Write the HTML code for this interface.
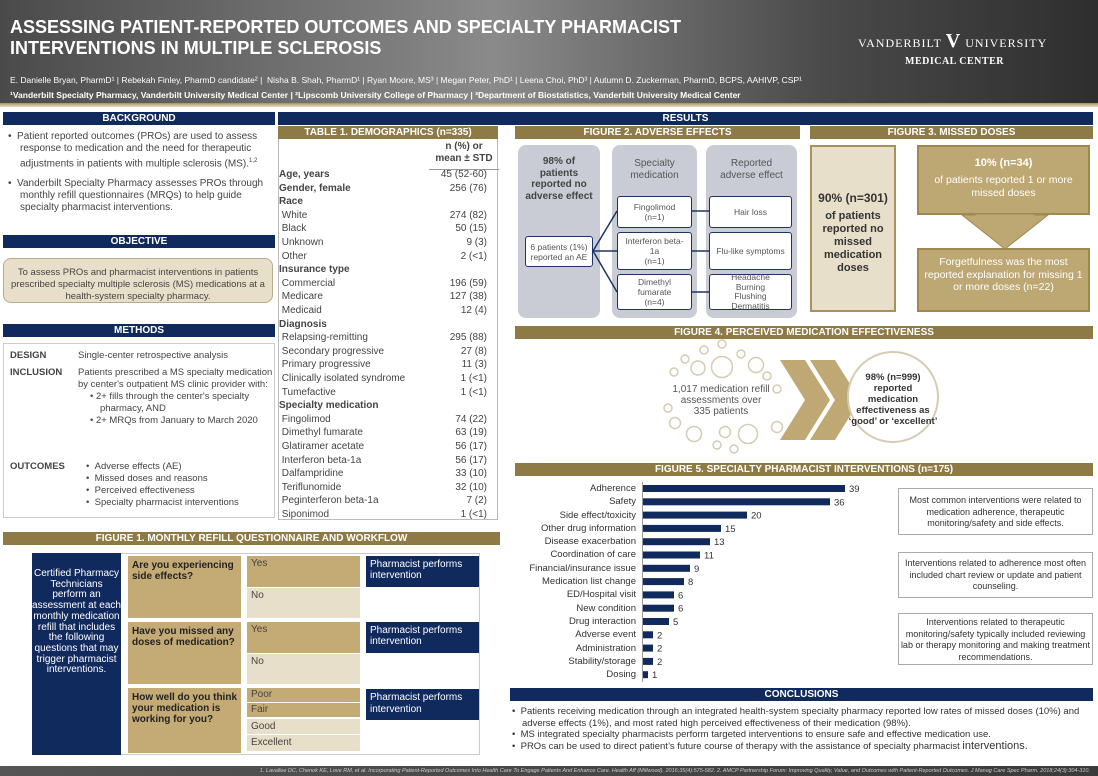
<!DOCTYPE html>
<html><head><meta charset="utf-8"><style>
*{margin:0;padding:0;box-sizing:border-box}
body{width:1098px;height:776px;position:relative;background:#fff;font-family:"Liberation Sans",sans-serif;color:#444;overflow:hidden}
.a{position:absolute}
.nv{background:#112a5e;color:#fff;font-weight:bold;font-size:10px;text-align:center;line-height:13px}
.gd{background:#8e7a45;color:#fff;font-weight:bold;font-size:10px;text-align:center;line-height:13px}
.t{font-size:10px;line-height:12px}
.gc{background:#c9ccd4;border-radius:8px}
.wb{background:#fff;border:1.5px solid #1d3566;border-radius:3px;font-size:8.5px;text-align:center;color:#555;display:flex;align-items:center;justify-content:center;line-height:10px}
.row{position:absolute;left:0;width:220px;font-size:10px;line-height:13px}
.row span{position:absolute;right:12px}
</style></head><body>
<div class="a" style="left:0;top:0;width:1098px;height:103px;background:linear-gradient(90deg,#4a4a4a 0%,#8a8a8a 45%,#4a4a4a 75%,#2e2e2e 100%)"></div>
<div class="a" style="left:0;top:103px;width:1098px;height:4px;background:linear-gradient(#a8925c,#e6dcc4)"></div>
<div class="a" style="left:10px;top:17px;color:#fff;font-weight:bold;font-size:18px;line-height:21px">ASSESSING PATIENT-REPORTED OUTCOMES AND SPECIALTY PHARMACIST<br>INTERVENTIONS IN MULTIPLE SCLEROSIS</div>
<div class="a" style="left:10px;top:73px;color:#fff;font-size:8.5px;line-height:15px">E. Danielle Bryan, PharmD¹ | Rebekah Finley, PharmD candidate² | &nbsp;Nisha B. Shah, PharmD¹ | Ryan Moore, MS³ | Megan Peter, PhD¹ | Leena Choi, PhD³ | Autumn D. Zuckerman, PharmD, BCPS, AAHIVP, CSP¹<br><b>¹Vanderbilt Specialty Pharmacy, Vanderbilt University Medical Center | ²Lipscomb University College of Pharmacy | ³Department of Biostatistics, Vanderbilt University Medical Center</b></div>
<div class="a" style="left:858px;top:30px;color:#fff;font-family:'Liberation Serif',serif;font-size:12px;letter-spacing:1px">VANDERBILT <span style="font-size:20px;font-weight:bold">V</span> UNIVERSITY</div>
<div class="a" style="left:905px;top:56px;color:#fff;font-family:'Liberation Serif',serif;font-size:10px;font-weight:bold;letter-spacing:.5px">MEDICAL CENTER</div>

<div class="a nv" style="left:3px;top:112px;width:272px">BACKGROUND</div>
<div class="a t" style="left:8px;top:131px;width:268px">
<div style="padding-left:12px;text-indent:-12px">•&nbsp; Patient reported outcomes (PROs) are used to assess response to medication and the need for therapeutic adjustments in patients with multiple sclerosis (MS).<sup style="font-size:6px">1,2</sup></div>
<div style="padding-left:12px;text-indent:-12px;margin-top:8px">•&nbsp; Vanderbilt Specialty Pharmacy assesses PROs through monthly refill questionnaires (MRQs) to help guide specialty pharmacist interventions.</div></div>
<div class="a nv" style="left:3px;top:235px;width:272px">OBJECTIVE</div>
<div class="a t" style="left:3px;top:258px;width:270px;height:45px;background:#e7dfc9;border:1px solid #b8ab88;border-radius:8px;text-align:center;padding-top:8px;font-size:9.5px">To assess PROs and pharmacist interventions in patients prescribed specialty multiple sclerosis (MS) medications at a health-system specialty pharmacy.</div>
<div class="a nv" style="left:3px;top:324px;width:272px">METHODS</div>
<div class="a" style="left:3px;top:343px;width:272px;height:175px;border:1px solid #ccc;font-size:9.5px;line-height:12px">
<div class="a" style="left:6px;top:6px;font-weight:bold">DESIGN</div><div class="a" style="left:74px;top:6px">Single-center retrospective analysis</div>
<div class="a" style="left:6px;top:23px;font-weight:bold">INCLUSION</div><div class="a" style="left:74px;top:23px;width:195px">Patients prescribed a MS specialty medication by center's outpatient MS clinic provider with:
<div style="padding-left:22px;text-indent:-10px">• 2+ fills through the center's specialty pharmacy, AND</div><div style="padding-left:22px;text-indent:-10px">• 2+ MRQs from January to March 2020</div></div>
<div class="a" style="left:6px;top:117px;font-weight:bold">OUTCOMES</div><div class="a" style="left:82px;top:117px;line-height:12px">• &nbsp;Adverse effects (AE)<br>• &nbsp;Missed doses and reasons<br>• &nbsp;Perceived effectiveness<br>• &nbsp;Specialty pharmacist interventions</div>
</div>

<div class="a nv" style="left:278px;top:112px;width:815px">RESULTS</div>
<div class="a gd" style="left:278px;top:126px;width:220px">TABLE 1. DEMOGRAPHICS (n=335)</div>
<div class="a" style="left:278px;top:139px;width:220px;height:381px;border:1px solid #bbb;border-top:none">
<div class="a" style="left:150px;top:2px;width:70px;text-align:center;font-weight:bold;font-size:10px;line-height:12px;color:#444">n (%) or<br>mean ± STD</div>
<div class="a" style="left:150px;top:30px;width:70px;border-top:1px solid #999"></div>
<div class="a" style="left:0;top:29px;width:220px">
<div class="row" style="top:0"><b>Age, years</b><span>45 (52-60)</span></div>
<div class="row" style="top:13.6px"><b>Gender, female</b><span>256 (76)</span></div>
<div class="row" style="top:27.2px"><b>Race</b></div>
<div class="row" style="top:40.8px">&nbsp;White<span>274 (82)</span></div>
<div class="row" style="top:54.4px">&nbsp;Black<span>50 (15)</span></div>
<div class="row" style="top:68px">&nbsp;Unknown<span>9 (3)</span></div>
<div class="row" style="top:81.6px">&nbsp;Other<span>2 (&lt;1)</span></div>
<div class="row" style="top:95.2px"><b>Insurance type</b></div>
<div class="row" style="top:108.8px">&nbsp;Commercial<span>196 (59)</span></div>
<div class="row" style="top:122.4px">&nbsp;Medicare<span>127 (38)</span></div>
<div class="row" style="top:136px">&nbsp;Medicaid<span>12 (4)</span></div>
<div class="row" style="top:149.6px"><b>Diagnosis</b></div>
<div class="row" style="top:163.2px">&nbsp;Relapsing-remitting<span>295 (88)</span></div>
<div class="row" style="top:176.8px">&nbsp;Secondary progressive<span>27 (8)</span></div>
<div class="row" style="top:190.4px">&nbsp;Primary progressive<span>11 (3)</span></div>
<div class="row" style="top:204px">&nbsp;Clinically isolated syndrome<span>1 (&lt;1)</span></div>
<div class="row" style="top:217.6px">&nbsp;Tumefactive<span>1 (&lt;1)</span></div>
<div class="row" style="top:231.2px"><b>Specialty medication</b></div>
<div class="row" style="top:244.8px">&nbsp;Fingolimod<span>74 (22)</span></div>
<div class="row" style="top:258.4px">&nbsp;Dimethyl fumarate<span>63 (19)</span></div>
<div class="row" style="top:272px">&nbsp;Glatiramer acetate<span>56 (17)</span></div>
<div class="row" style="top:285.6px">&nbsp;Interferon beta-1a<span>56 (17)</span></div>
<div class="row" style="top:299.2px">&nbsp;Dalfampridine<span>33 (10)</span></div>
<div class="row" style="top:312.8px">&nbsp;Teriflunomide<span>32 (10)</span></div>
<div class="row" style="top:326.4px">&nbsp;Peginterferon beta-1a<span>7 (2)</span></div>
<div class="row" style="top:340px">&nbsp;Siponimod<span>1 (&lt;1)</span></div>
</div></div>

<div class="a gd" style="left:515px;top:126px;width:285px">FIGURE 2. ADVERSE EFFECTS</div>
<div class="a gc" style="left:518px;top:145px;width:82px;height:173px"></div>
<div class="a gc" style="left:612px;top:145px;width:85px;height:173px"></div>
<div class="a gc" style="left:706px;top:145px;width:91px;height:173px"></div>
<div class="a" style="left:518px;top:156px;width:82px;text-align:center;font-weight:bold;font-size:10px;line-height:11.5px;color:#444">98% of<br>patients<br>reported no<br>adverse effect</div>
<div class="a" style="left:612px;top:158px;width:85px;text-align:center;font-size:10px;line-height:11.5px;color:#555">Specialty<br>medication</div>
<div class="a" style="left:706px;top:158px;width:91px;text-align:center;font-size:10px;line-height:11.5px;color:#555">Reported<br>adverse effect</div>
<svg class="a" style="left:510px;top:140px" width="300" height="185"><g stroke="#1d3566" stroke-width="1.5"><line x1="83" y1="111" x2="107" y2="71"/><line x1="83" y1="111" x2="107" y2="111"/><line x1="83" y1="111" x2="107" y2="152"/><line x1="182" y1="71" x2="200" y2="71"/><line x1="182" y1="111" x2="200" y2="111"/><line x1="182" y1="152" x2="200" y2="152"/></g></svg>
<div class="a wb" style="left:525px;top:236px;width:68px;height:31px">6 patients (1%)<br>reported an AE</div>
<div class="a wb" style="left:617px;top:196px;width:75px;height:32px">Fingolimod<br>(n=1)</div>
<div class="a wb" style="left:617px;top:232px;width:75px;height:38px">Interferon beta-<br>1a<br>(n=1)</div>
<div class="a wb" style="left:617px;top:274px;width:75px;height:36px">Dimethyl<br>fumarate<br>(n=4)</div>
<div class="a wb" style="left:709px;top:196px;width:83px;height:32px">Hair loss</div>
<div class="a wb" style="left:709px;top:232px;width:83px;height:38px">Flu-like symptoms</div>
<div class="a wb" style="left:709px;top:274px;width:83px;height:36px;line-height:9.5px">Headache<br>Burning<br>Flushing<br>Dermatitis</div>

<div class="a gd" style="left:810px;top:126px;width:283px">FIGURE 3. MISSED DOSES</div>
<div class="a" style="left:810px;top:145px;width:86px;height:167px;background:#e7dfc9;border:2px solid #a8925c;text-align:center;color:#333;font-weight:bold;padding-top:45px;font-size:11px;line-height:13px"><span style="font-size:12px">90% (n=301)</span><br><span style="display:block;margin-top:4px">of patients reported no missed medication doses</span></div>
<div class="a" style="left:917px;top:145px;width:173px;height:70px;background:#bda772;border:2px solid #a0894f;text-align:center;color:#fff;font-size:10.5px;line-height:13px;padding-top:10px"><b style="font-size:11px">10% (n=34)</b><br><span style="display:block;margin-top:4px">of patients reported 1 or more missed doses</span></div>
<svg class="a" style="left:960px;top:214px" width="90" height="36"><polygon points="15,0 75,0 75,1 88,1 45,35 2,1 15,1" fill="#bda772" stroke="#a0894f"/></svg>
<div class="a" style="left:917px;top:248px;width:173px;height:64px;background:#bda772;border:2px solid #a0894f;text-align:center;color:#fff;font-size:10.5px;line-height:12.5px;padding-top:6px">Forgetfulness was the most reported explanation for missing 1 or more doses (n=22)</div>

<div class="a gd" style="left:515px;top:326px;width:578px">FIGURE 4. PERCEIVED MEDICATION EFFECTIVENESS</div>
<svg class="a" style="left:0;top:0" width="1098" height="470"><g fill="none" stroke="#d6ccb3" stroke-width="1.5">
<circle cx="722" cy="344" r="4"/><circle cx="704" cy="350" r="4"/><circle cx="741" cy="354" r="4"/><circle cx="685" cy="359" r="4"/><circle cx="698" cy="368" r="7"/><circle cx="722" cy="367" r="10.5"/><circle cx="756" cy="365" r="7.5"/><circle cx="674" cy="372" r="4"/><circle cx="767" cy="376" r="4"/><circle cx="777" cy="389" r="4"/><circle cx="668" cy="408" r="4"/><circle cx="675" cy="423" r="5.5"/><circle cx="694" cy="434" r="7.5"/><circle cx="725" cy="432" r="5.5"/><circle cx="748" cy="434" r="9.5"/><circle cx="777" cy="427" r="5.5"/><circle cx="717" cy="445" r="4"/><circle cx="734" cy="449" r="4"/></g>
<polygon points="780,360 805,360 830,400 805,440 780,440 805,400" fill="#bfa873"/>
<polygon points="810,360 835,360 860,400 835,440 810,440 835,400" fill="#bfa873"/>
<circle cx="893" cy="397" r="45" fill="#fff" stroke="#d6ccb3" stroke-width="2"/></svg>
<div class="a" style="left:671px;top:384px;width:100px;text-align:center;font-size:10px;line-height:11px;color:#555">1,017 medication refill assessments over 335 patients</div>
<div class="a" style="left:848px;top:372px;width:90px;text-align:center;font-size:9.5px;font-weight:bold;line-height:11px;color:#333">98% (n=999) reported medication effectiveness as ‘good’ or ‘excellent’</div>

<div class="a gd" style="left:515px;top:463px;width:578px">FIGURE 5. SPECIALTY PHARMACIST INTERVENTIONS (n=175)</div>
<div class="a" style="left:480px;top:482px;width:620px;height:200px;font-size:9.5px;line-height:13.3px;color:#333">
<div class="a" style="left:0;top:0;width:156px;text-align:right">Adherence<br>Safety<br>Side effect/toxicity<br>Other drug information<br>Disease exacerbation<br>Coordination of care<br>Financial/insurance issue<br>Medication list change<br>ED/Hospital visit<br>New condition<br>Drug interaction<br>Adverse event<br>Administration<br>Stability/storage<br>Dosing</div>
<div class="a" style="left:162px;top:0;width:1px;height:200px;background:#999"></div>
</div>
<svg class="a" style="left:643px;top:482px" width="240" height="200" font-family="Liberation Sans" font-size="9.5" fill="#333">
<g fill="#112a5e">
<rect x="0" y="3" width="202" height="7"/><rect x="0" y="16.3" width="187" height="7"/><rect x="0" y="29.6" width="104" height="7"/><rect x="0" y="42.9" width="78" height="7"/><rect x="0" y="56.2" width="67" height="7"/><rect x="0" y="69.5" width="57" height="7"/><rect x="0" y="82.8" width="47" height="7"/><rect x="0" y="96.1" width="41" height="7"/><rect x="0" y="109.4" width="31" height="7"/><rect x="0" y="122.7" width="31" height="7"/><rect x="0" y="136" width="26" height="7"/><rect x="0" y="149.3" width="10" height="7"/><rect x="0" y="162.6" width="10" height="7"/><rect x="0" y="175.9" width="10" height="7"/><rect x="0" y="189.2" width="5" height="7"/></g>
<text x="206" y="10">39</text><text x="191" y="23.3">36</text><text x="108" y="36.6">20</text><text x="82" y="49.9">15</text><text x="71" y="63.2">13</text><text x="61" y="76.5">11</text><text x="51" y="89.8">9</text><text x="45" y="103.1">8</text><text x="35" y="116.4">6</text><text x="35" y="129.7">6</text><text x="30" y="143">5</text><text x="14" y="156.3">2</text><text x="14" y="169.6">2</text><text x="14" y="182.9">2</text><text x="9" y="196.2">1</text></svg>
<div class="a" style="left:898px;top:488px;width:195px;height:47px;border:1px solid #aaa;font-size:9px;line-height:11.5px;text-align:center;padding-top:6px;color:#333">Most common interventions were related to medication adherence, therapeutic monitoring/safety and side effects.</div>
<div class="a" style="left:898px;top:552px;width:195px;height:46px;border:1px solid #aaa;font-size:9px;line-height:11.5px;text-align:center;padding-top:5px;color:#333">Interventions related to adherence most often included chart review or update and patient counseling.</div>
<div class="a" style="left:898px;top:613px;width:195px;height:52px;border:1px solid #aaa;font-size:9px;line-height:11.5px;text-align:center;padding-top:3px;color:#333">Interventions related to therapeutic monitoring/safety typically included reviewing lab or therapy monitoring and making treatment recommendations.</div>

<div class="a nv" style="left:510px;top:688px;width:583px">CONCLUSIONS</div>
<div class="a" style="left:500px;top:706px;width:593px;font-size:9.5px;line-height:11.5px;color:#333">
<div style="padding-left:22px;text-indent:-10px">• &nbsp;Patients receiving medication through an integrated health-system specialty pharmacy reported low rates of missed doses (10%) and adverse effects (1%), and most rated high perceived effectiveness of their medication (98%).</div>
<div style="padding-left:22px;text-indent:-10px">• &nbsp;MS integrated specialty pharmacists perform targeted interventions to ensure safe and effective medication use.</div>
<div style="padding-left:22px;text-indent:-10px">• &nbsp;PROs can be used to direct patient’s future course of therapy with the assistance of specialty pharmacist <span style="font-size:11px">interventions.</span></div></div>

<div class="a gd" style="left:3px;top:532px;width:497px">FIGURE 1. MONTHLY REFILL QUESTIONNAIRE AND WORKFLOW</div>
<div class="a" style="left:32px;top:553px;width:448px;height:202px;border:1px solid #ccc"></div>
<div class="a" style="left:32px;top:553px;width:89px;height:202px;background:#112a5e;color:#fff;text-align:center;font-size:10px;line-height:10.7px;padding-top:16px">Certified Pharmacy Technicians perform an assessment at each monthly medication refill that includes the following questions that may trigger pharmacist interventions.</div>
<div class="a" style="left:128px;top:556px;width:113px;height:62px;background:#c4ab76;font-weight:bold;font-size:10px;line-height:11px;padding:4px;color:#222">Are you experiencing side effects?</div>
<div class="a" style="left:128px;top:622px;width:113px;height:62px;background:#c4ab76;font-weight:bold;font-size:10px;line-height:11px;padding:4px;color:#222">Have you missed any doses of medication?</div>
<div class="a" style="left:128px;top:688px;width:113px;height:65px;background:#c4ab76;font-weight:bold;font-size:10px;line-height:11px;padding:4px;color:#222">How well do you think your medication is working for you?</div>
<div class="a" style="left:247px;top:556px;width:113px;height:31px;background:#c4ab76;font-size:10px;padding:2px 4px;color:#444">Yes</div>
<div class="a" style="left:247px;top:588px;width:113px;height:30px;background:#e7dfc9;font-size:10px;padding:2px 4px;color:#444">No</div>
<div class="a" style="left:247px;top:622px;width:113px;height:31px;background:#c4ab76;font-size:10px;padding:2px 4px;color:#444">Yes</div>
<div class="a" style="left:247px;top:654px;width:113px;height:30px;background:#e7dfc9;font-size:10px;padding:2px 4px;color:#444">No</div>
<div class="a" style="left:247px;top:688px;width:113px;height:14px;background:#c4ab76;font-size:10px;padding:0 4px;line-height:14px;color:#444">Poor</div>
<div class="a" style="left:247px;top:703px;width:113px;height:14px;background:#c4ab76;font-size:10px;padding:0 4px;line-height:14px;color:#444">Fair</div>
<div class="a" style="left:247px;top:719px;width:113px;height:15px;background:#e7dfc9;font-size:10px;padding:0 4px;line-height:15px;color:#444">Good</div>
<div class="a" style="left:247px;top:735px;width:113px;height:16px;background:#e7dfc9;font-size:10px;padding:0 4px;line-height:16px;color:#444">Excellent</div>
<div class="a" style="left:366px;top:556px;width:113px;height:31px;background:#112a5e;color:#fff;font-size:10px;line-height:11px;padding:3px 4px">Pharmacist performs intervention</div>
<div class="a" style="left:366px;top:622px;width:113px;height:31px;background:#112a5e;color:#fff;font-size:10px;line-height:11px;padding:3px 4px">Pharmacist performs intervention</div>
<div class="a" style="left:366px;top:689px;width:113px;height:31px;background:#112a5e;color:#fff;font-size:10px;line-height:12px;padding:3px 4px">Pharmacist performs intervention</div>

<div class="a" style="left:0;top:766px;width:1098px;height:10px;background:linear-gradient(90deg,#555,#3a3a3a);color:#ccc;font-size:5.5px;line-height:10px;text-align:right;padding-right:8px;font-style:italic">1. Lavallee DC, Chenok KE, Love RM, et al. Incorporating Patient-Reported Outcomes Into Health Care To Engage Patients And Enhance Care. Health Aff (Millwood). 2016;35(4):575-582. 2. AMCP Partnership Forum: Improving Quality, Value, and Outcomes with Patient-Reported Outcomes. J Manag Care Spec Pharm. 2018;24(3):304-310.</div>
</body></html>
